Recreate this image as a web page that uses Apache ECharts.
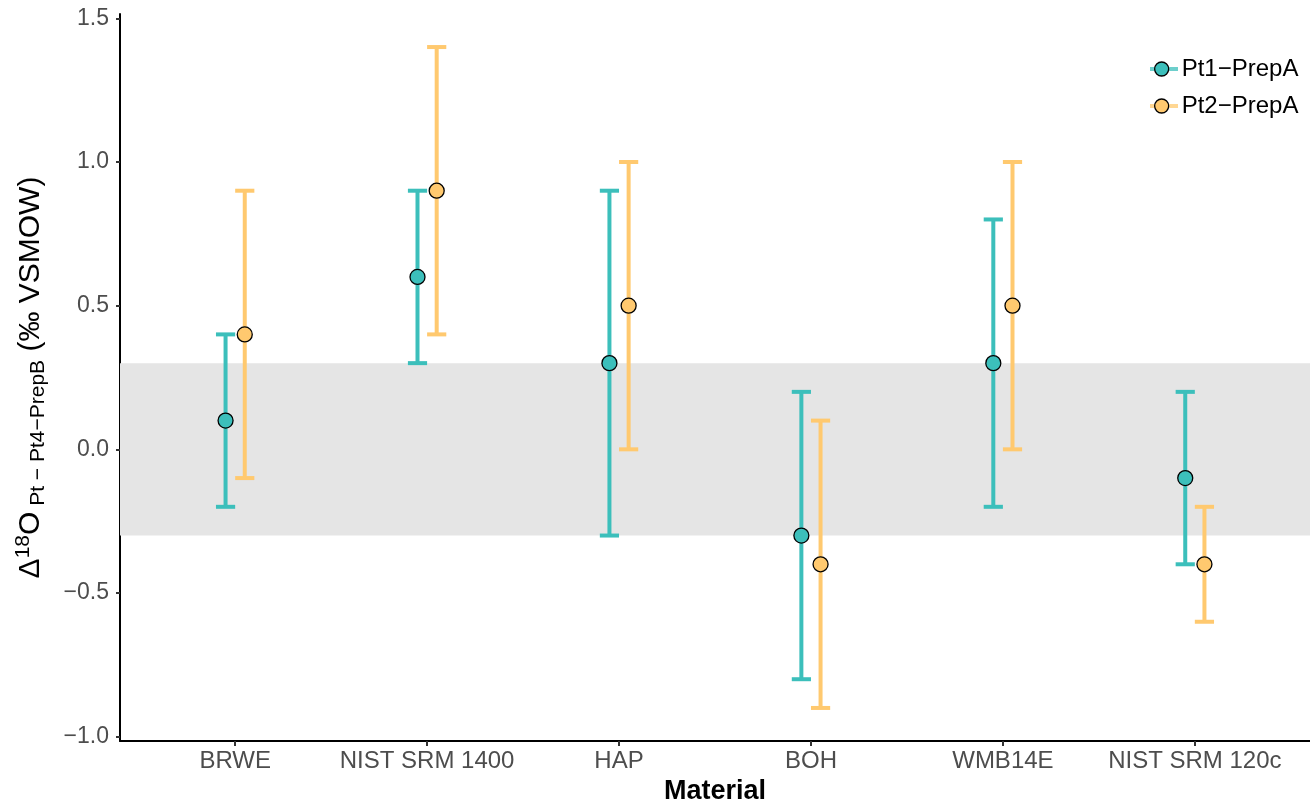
<!DOCTYPE html>
<html><head><meta charset="utf-8">
<script src="https://cdn.jsdelivr.net/npm/echarts@6/dist/echarts.min.js"></script>
<style>html,body{margin:0;padding:0;background:#fff}#c{width:1310px;height:801px}</style>
</head><body><div id="c"></div>
<script>
const categories = ['BRWE', 'NIST SRM 1400', 'HAP', 'BOH', 'WMB14E', 'NIST SRM 120c'];
const seriesNames = ['Pt1\u2212PrepA', 'Pt2\u2212PrepA'];
const pt1Mean = [0.1, 0.6, 0.3, -0.3, 0.3, -0.1];
const pt1Low  = [-0.2, 0.3, -0.3, -0.8, -0.2, -0.4];
const pt1High = [0.4, 0.9, 0.9, 0.2, 0.8, 0.2];
const pt2Mean = [0.4, 0.9, 0.5, -0.4, 0.5, -0.4];
const pt2Low  = [-0.1, 0.4, 0.0, -0.9, 0.0, -0.6];
const pt2High = [0.9, 1.4, 1.0, 0.1, 1.0, -0.2];
const yTicks = [-1.0, -0.5, 0.0, 0.5, 1.0, 1.5];
const bandRange = [-0.3, 0.3];
const colors = ['#3cbfbb', '#ffc96f'];
const dodge = 0.05;
const capWidth = 0.1;

const FONT = '"Liberation Sans", Arial, Helvetica, sans-serif';

function errBar(color) {
  return function (params, api) {
    const x = api.value(0), lo = api.value(1), hi = api.value(2);
    const pLo = api.coord([x, lo]);
    const pHi = api.coord([x, hi]);
    const hw = api.size([capWidth, 0])[0] / 2;
    const st = { stroke: color, lineWidth: 4, lineCap: 'butt' };
    return {
      type: 'group',
      children: [
        { type: 'line', shape: { x1: pLo[0], y1: pLo[1], x2: pHi[0], y2: pHi[1] }, style: st },
        { type: 'line', shape: { x1: pLo[0] - hw, y1: pLo[1], x2: pLo[0] + hw, y2: pLo[1] }, style: st },
        { type: 'line', shape: { x1: pHi[0] - hw, y1: pHi[1], x2: pHi[0] + hw, y2: pHi[1] }, style: st }
      ]
    };
  };
}

const groups = [
  { name: seriesNames[0], mean: pt1Mean, low: pt1Low, high: pt1High, off: -dodge, color: colors[0] },
  { name: seriesNames[1], mean: pt2Mean, low: pt2Low, high: pt2High, off: dodge, color: colors[1] }
];

const series = [{
  type: 'line', data: [], silent: true, z: 1,
  markArea: {
    silent: true,
    itemStyle: { color: '#e5e5e5' },
    data: [[{ yAxis: bandRange[0] }, { yAxis: bandRange[1] }]]
  }
}];
groups.forEach(g => {
  series.push({
    name: g.name, type: 'custom', z: 3,
    itemStyle: { color: g.color },
    renderItem: errBar(g.color),
    encode: { x: 0, y: [1, 2] },
    data: g.mean.map((m, i) => [i + g.off, g.low[i], g.high[i]])
  });
});
groups.forEach(g => {
  series.push({
    name: g.name, type: 'scatter', z: 5,
    symbol: 'circle', symbolSize: 15,
    itemStyle: { color: g.color, borderColor: '#000', borderWidth: 1.3, opacity: 1 },
    data: g.mean.map((m, i) => [i + g.off, m])
  });
});

const fmtY = v => (Math.abs(v) < 1e-9 ? '0.0' : v.toFixed(1).replace('-', '\u2212'));

const chart = echarts.init(document.getElementById('c'), null, { renderer: 'canvas' });
chart.setOption({
  animation: false,
  backgroundColor: '#ffffff',
  textStyle: { fontFamily: FONT },
  grid: { left: 120, right: 0, top: 14, bottom: 60, containLabel: false, outerBoundsMode: 'none' },
  xAxis: {
    type: 'value', min: -0.6, max: 5.6,
    axisLine: { show: true, onZero: false, lineStyle: { color: '#000', width: 2 } },
    axisTick: { show: true, customValues: categories.map((c, i) => i), length: 5, lineStyle: { color: '#333', width: 2 } },
    axisLabel: {
      customValues: categories.map((c, i) => i),
      formatter: v => categories[Math.round(v)],
      color: '#4d4d4d', fontSize: 24, fontFamily: FONT, margin: 8
    },
    splitLine: { show: false },
    name: 'Material', nameLocation: 'middle', nameGap: 37,
    nameTextStyle: { fontSize: 27, fontWeight: 'bold', color: '#000', fontFamily: FONT }
  },
  yAxis: {
    type: 'value', min: -1.015, max: 1.515,
    axisLine: { show: true, onZero: false, lineStyle: { color: '#000', width: 2 } },
    axisTick: { show: true, customValues: yTicks, length: 4, lineStyle: { color: '#333', width: 2 } },
    axisLabel: {
      customValues: yTicks, formatter: fmtY,
      color: '#4d4d4d', fontSize: 23, fontFamily: FONT, margin: 11
    },
    splitLine: { show: false },
    name: '{m|\u0394}{sup|18}{m|O}{sub| Pt \u2212 Pt4\u2212PrepB}{m| (\u2030 VSMOW)}',
    nameLocation: 'middle', nameRotate: 90, nameGap: 57,
    nameTextStyle: {
      color: '#000', fontFamily: FONT,
      rich: {
        m: { fontSize: 30, lineHeight: 44, color: '#000', fontFamily: FONT, verticalAlign: 'middle' },
        sup: { fontSize: 21, lineHeight: 21, color: '#000', fontFamily: FONT, verticalAlign: 'top', padding: [4, 0, 0, 0] },
        sub: { fontSize: 21, lineHeight: 21, color: '#000', fontFamily: FONT, verticalAlign: 'bottom', padding: [0, 0, 4, 0] }
      }
    }
  },
  legend: [{
    data: seriesNames, orient: 'vertical', left: 1150, top: 56, padding: 0,
    itemWidth: 28, itemHeight: 4, itemGap: 11, icon: 'rect', z: 4,
    selectedMode: false,
    itemStyle: { borderWidth: 0, opacity: 0.75 },
    textStyle: { fontSize: 24, lineHeight: 26, color: 'rgba(0,0,0,0)', fontFamily: FONT }
  }, {
    data: seriesNames, orient: 'vertical', left: 1154, top: 56, padding: 0,
    itemWidth: 30, itemHeight: 14, itemGap: 11, icon: 'circle', z: 5,
    selectedMode: false,
    itemStyle: { borderColor: '#000', borderWidth: 1.3 },
    textStyle: { fontSize: 24, lineHeight: 26, color: '#000', fontFamily: FONT }
  }],
  series: series
});
</script>
</body></html>
